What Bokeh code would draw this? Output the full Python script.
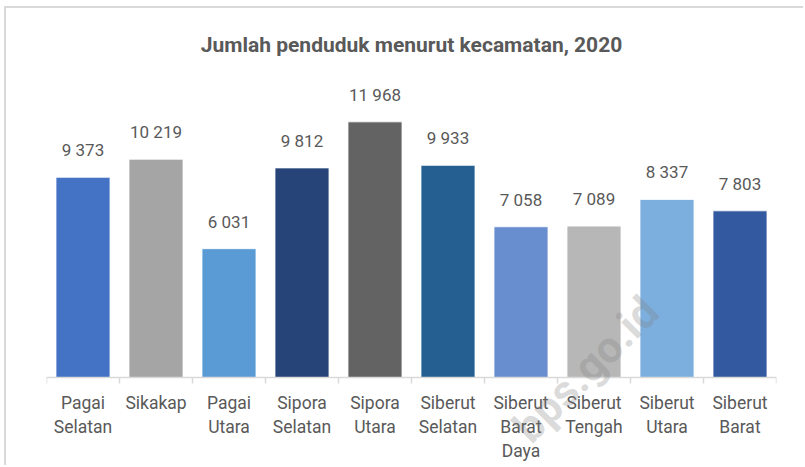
from bokeh.plotting import figure
from bokeh.models import ColumnDataSource, FixedTicker, Range1d, Label
from bokeh.embed import file_html
from bokeh.resources import INLINE
from bokeh.core.properties import value

# ---- data ----
districts = ["Pagai Selatan", "Sikakap", "Pagai Utara", "Sipora Selatan", "Sipora Utara",
             "Siberut Selatan", "Siberut Barat Daya", "Siberut Tengah", "Siberut Utara", "Siberut Barat"]
tick_labels = ["Pagai\nSelatan", "Sikakap", "Pagai\nUtara", "Sipora\nSelatan", "Sipora\nUtara",
               "Siberut\nSelatan", "Siberut\nBarat\nDaya", "Siberut\nTengah", "Siberut\nUtara", "Siberut\nBarat"]
population = [9373, 10219, 6031, 9812, 11968, 9933, 7058, 7089, 8337, 7803]
bar_colors = ["#4472C4", "#A5A5A5", "#5B9BD5", "#264478", "#636363",
              "#255E91", "#698ED0", "#B7B7B7", "#7CAFDD", "#335AA1"]
title_text = "Jumlah penduduk menurut kecamatan, 2020"
watermark = "bps.go.id"

positions = list(range(1, len(districts) + 1))
value_labels = [f"{v:,}".replace(",", " ") for v in population]

source = ColumnDataSource(dict(x=positions, top=population, color=bar_colors,
                               label=value_labels, name=districts))

TEXT = "#595959"
GRID = "#D9D9D9"

p = figure(width=799, height=459, output_backend="svg", toolbar_location=None,
           x_range=Range1d(0.5, len(districts) + 0.5), y_range=Range1d(-4213, 17275),
           min_border_left=40, min_border_right=29, min_border_top=0, min_border_bottom=0)
# chart-area frame: light gray top and left edges
p.styles = {"margin-left": "4px", "margin-top": "6px",
            "border-top": "2px solid #D9D9D9", "border-left": "2px solid #D9D9D9"}

p.outline_line_color = None
p.background_fill_color = "white"
p.border_fill_color = "white"
p.xgrid.visible = False
p.ygrid.visible = False
p.yaxis.visible = False

# chart title
p.add_layout(Label(x=(positions[0] + positions[-1]) / 2, y=15543, text=title_text,
                   text_align="center", text_baseline="alphabetic", text_font="Roboto",
                   text_font_style="bold", text_font_size="21px", text_color=TEXT))

p.vbar(x="x", top="top", width=0.74, bottom=0, fill_color="color",
       line_color="white", line_width=0.8, source=source)

p.text(x="x", y="top", text="label", source=source, text_align="center",
       text_baseline="alphabetic", y_offset=-27, text_font=value("Roboto"),
       text_font_size="17px", text_color=TEXT)

ax = p.xaxis[0]
ax.fixed_location = 0
ax.ticker = FixedTicker(ticks=positions, minor_ticks=[i + 0.5 for i in range(0, len(districts) + 1)])
ax.major_label_overrides = {pos: lab for pos, lab in zip(positions, tick_labels)}
ax.major_tick_in = 0
ax.major_tick_out = 0
ax.minor_tick_in = 0
ax.minor_tick_out = 6
ax.minor_tick_line_color = GRID
ax.minor_tick_line_width = 1.5
ax.axis_line_color = GRID
ax.axis_line_width = 1.5
ax.major_label_standoff = 9
ax.major_label_text_font = "Roboto"
ax.major_label_text_font_size = "17.5px"
ax.major_label_text_color = TEXT
ax.major_label_text_line_height = 1.22

wm = Label(x=8.78, y=3420, text=watermark, angle=45, angle_units="deg",
           text_align="right", text_baseline="middle", text_font="Roboto",
           text_font_style="bold", text_font_size="44px", text_color="#7f7f7f",
           text_alpha=0.28)
p.add_layout(wm)

open("out.html", "w").write(file_html(p, INLINE))
